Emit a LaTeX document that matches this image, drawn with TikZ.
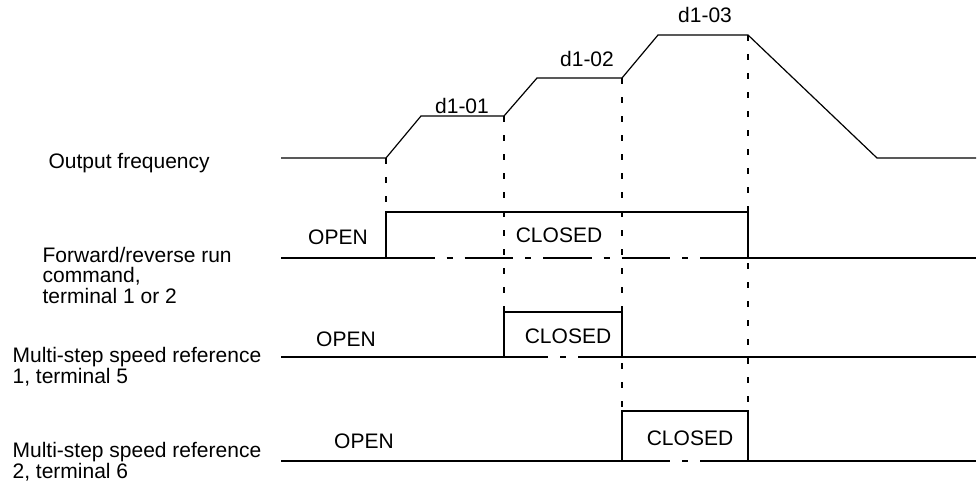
\documentclass[tikz,border=0pt]{standalone}
\usepackage{fontspec}
\setmainfont{Liberation Sans}
\begin{document}
\begin{tikzpicture}[x=0.5pt,y=-0.5pt,line width=0.6pt,
  every node/.style={inner sep=0pt,font={\fontsize{10.5pt}{10.25pt}\selectfont},align=left},
  guide/.style={dash pattern=on 3pt off 6.5pt},
  fwdgap/.style={dash pattern=on 24.25pt off 6pt on 3pt off 6pt},
  refagap/.style={dash pattern=on 22pt off 6pt on 3pt off 6pt},
  refbgap/.style={dash pattern=on 24pt off 6pt on 3pt off 6pt}]
\useasboundingbox (0,0) rectangle (979,487);
% output frequency
\draw (281,158)--(386,158)--(421,116)--(504,116)--(537,78)--(622,78)--(658,35)--(748,35)--(877,158)--(976,158);
\node[anchor=base] (f1) at (462,113) {d1-01};
\node[anchor=base] (f2) at (587,66) {d1-02};
\node[anchor=base] (f3) at (705,23) {d1-03};
\node[anchor=base west] (fout) at (48,168) {Output frequency};
% forward/reverse run command
\draw (281,258)--(386,258)--(386,212)--(748,212)--(748,258)--(976,258);
\draw[fwdgap] (386,258)--(748,258);
\node[anchor=base] (fopen) at (338,244) {OPEN};
\node[anchor=base] (fclosed) at (559,242) {CLOSED};
\node[anchor=base west] (frun) at (42,303) {Forward/reverse run\\command,\\terminal 1 or 2};
% multi-step speed reference 1
\draw (281,357)--(504,357)--(504,312)--(622,312)--(622,357)--(976,357);
\draw[refagap] (504,357)--(622,357);
\node[anchor=base] (aopen) at (346,346) {OPEN};
\node[anchor=base] (aclosed) at (568,343) {CLOSED};
\node[anchor=base west] (aref) at (12,383) {Multi-step speed reference\\1, terminal 5};
% multi-step speed reference 2
\draw (281,461)--(622,461)--(622,411)--(748,411)--(748,461)--(976,461);
\draw[refbgap] (622,461)--(748,461);
\node[anchor=base] (bopen) at (364,448) {OPEN};
\node[anchor=base] (bclosed) at (690,445) {CLOSED};
\node[anchor=base west] (bref) at (12,478) {Multi-step speed reference\\2, terminal 6};
% timing guides
\draw[guide] (386,158)--(386,212);
\draw[guide] (504,116)--(504,312);
\draw[guide] (622,78)--(622,411);
\draw[guide] (748,35)--(748,411);
\end{tikzpicture}
\end{document}
